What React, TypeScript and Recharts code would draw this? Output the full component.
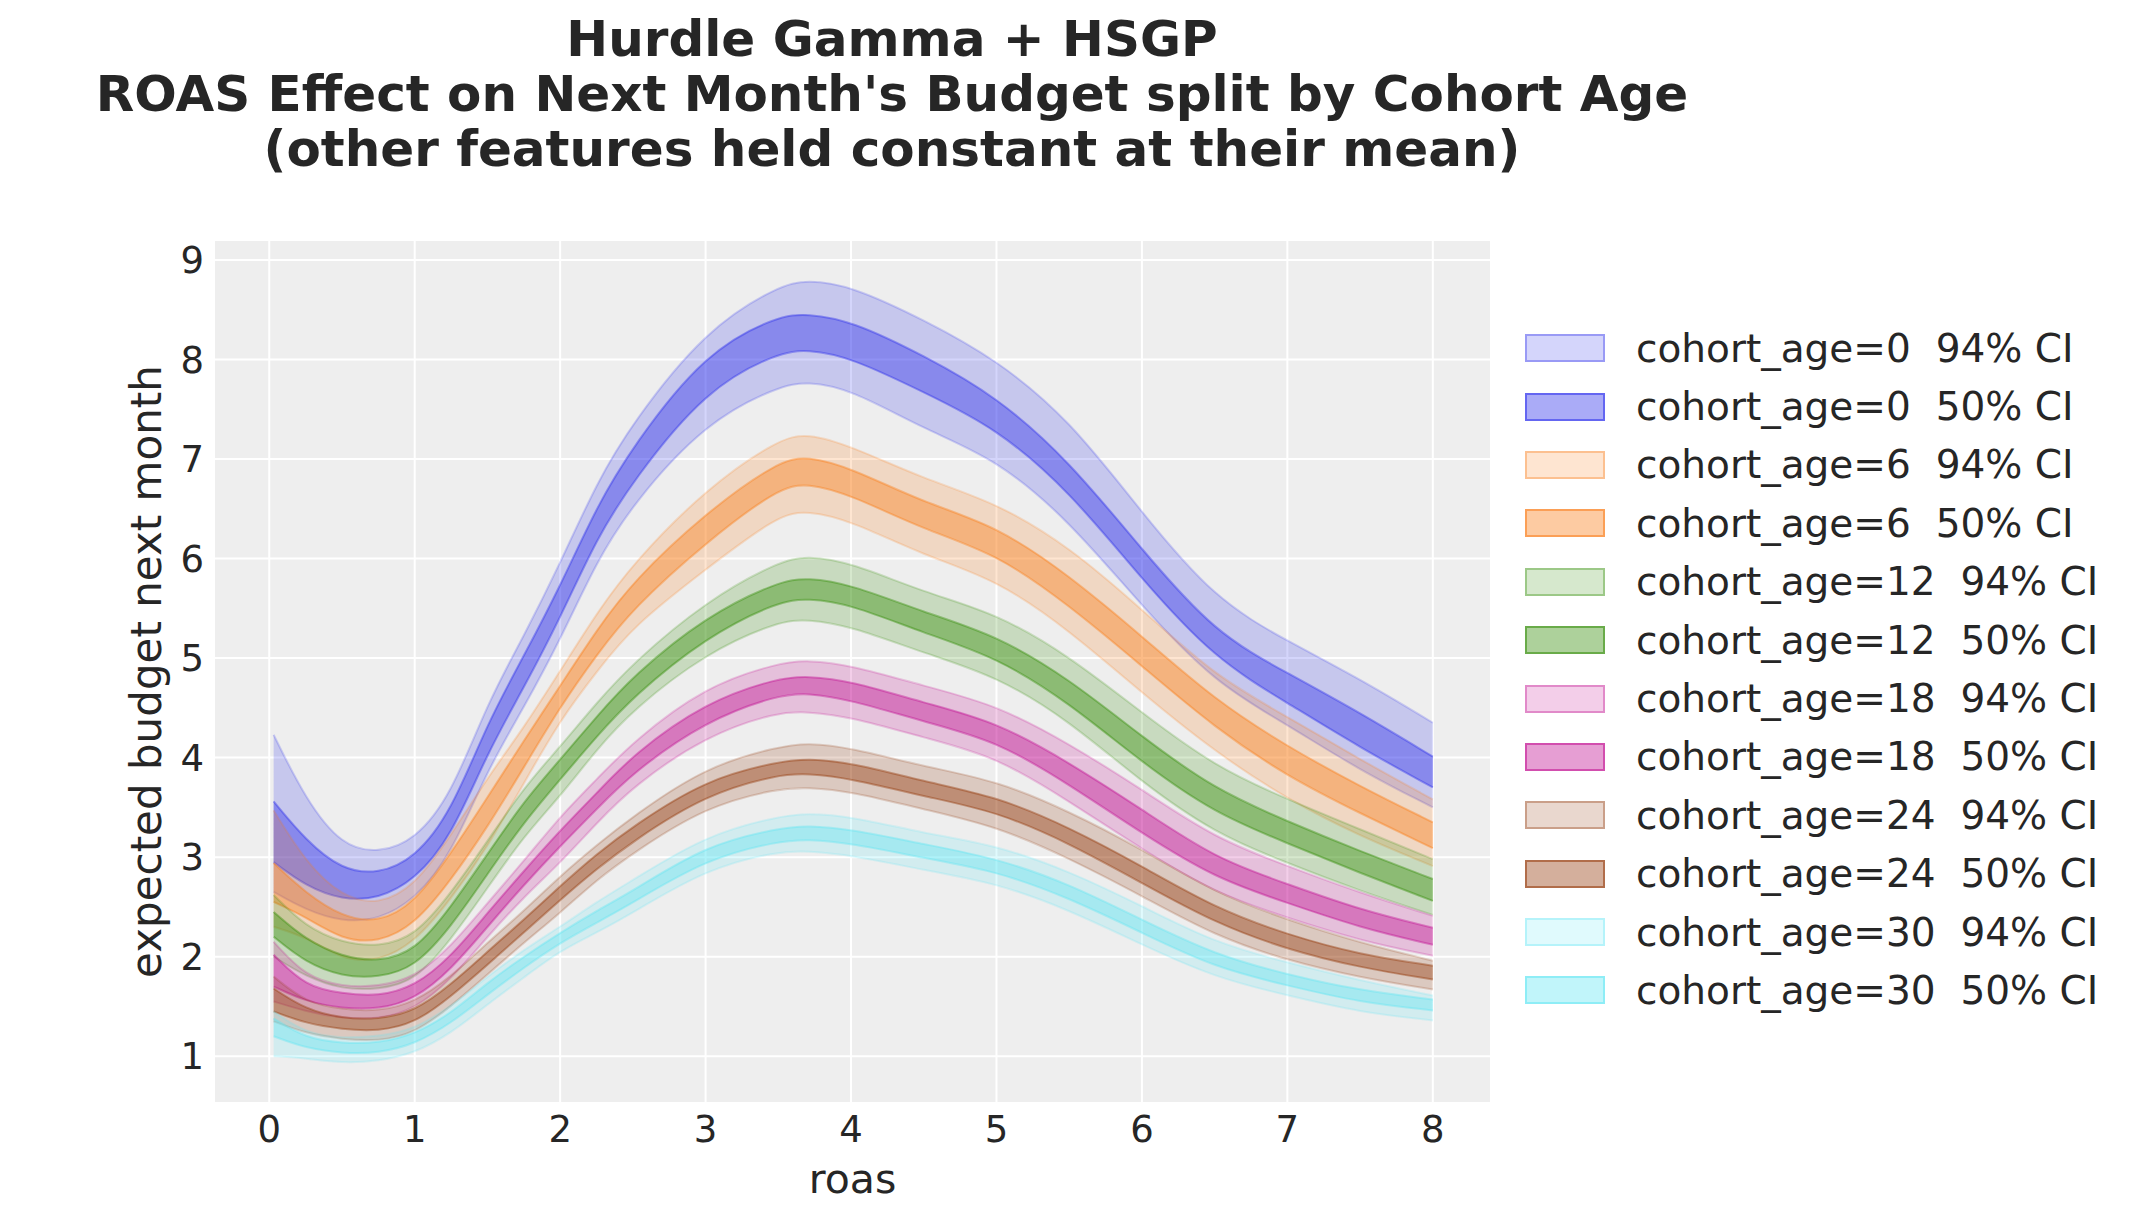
import React from "react";
import { ComposedChart, Area, XAxis, YAxis, CartesianGrid, Legend } from "recharts";

// roas grid the bands were sampled on
const roas = [0.03, 0.25, 0.5, 0.75, 1.0, 1.25, 1.5, 1.75, 2.0, 2.25, 2.5, 3.0, 3.5, 3.7, 4.0, 4.5, 5.0, 5.5, 6.0, 6.5, 7.0, 7.5, 8.0];

// cohort_age = 0
const age0Hi94 = [4.23, 3.58, 3.11, 3.04, 3.17, 3.62, 4.55, 5.22, 5.95, 6.76, 7.37, 8.3, 8.74, 8.8, 8.74, 8.4, 8.0, 7.4, 6.46, 5.59, 5.17, 4.79, 4.35];
const age0Hi50 = [3.56, 3.17, 2.87, 2.83, 2.99, 3.45, 4.35, 5.02, 5.72, 6.52, 7.13, 8.08, 8.44, 8.46, 8.39, 8.04, 7.63, 6.98, 6.09, 5.25, 4.85, 4.45, 4.01];
const age0Lo50 = [2.95, 2.71, 2.57, 2.58, 2.77, 3.2, 4.05, 4.7, 5.4, 6.2, 6.78, 7.7, 8.07, 8.1, 8.02, 7.67, 7.31, 6.68, 5.79, 4.99, 4.55, 4.1, 3.7];
const age0Lo94 = [2.65, 2.47, 2.35, 2.37, 2.57, 3.02, 3.88, 4.5, 5.18, 5.97, 6.55, 7.37, 7.73, 7.78, 7.7, 7.3, 7.0, 6.38, 5.52, 4.75, 4.33, 3.87, 3.5];

// cohort_age = 6
const age6Hi94 = [3.47, 2.95, 2.6, 2.52, 2.71, 3.22, 3.8, 4.3, 4.87, 5.45, 5.95, 6.7, 7.2, 7.26, 7.13, 6.8, 6.56, 6.12, 5.49, 4.82, 4.41, 3.98, 3.58];
const age6Hi50 = [2.94, 2.64, 2.4, 2.34, 2.54, 3.04, 3.6, 4.17, 4.72, 5.28, 5.77, 6.46, 6.98, 7.03, 6.91, 6.56, 6.33, 5.83, 5.22, 4.58, 4.11, 3.71, 3.35];
const age6Lo50 = [2.55, 2.4, 2.17, 2.14, 2.32, 2.77, 3.3, 3.9, 4.51, 5.03, 5.5, 6.16, 6.71, 6.76, 6.64, 6.29, 6.05, 5.53, 4.92, 4.3, 3.81, 3.44, 3.09];
const age6Lo94 = [2.3, 2.2, 1.97, 1.95, 2.14, 2.58, 3.1, 3.74, 4.38, 4.86, 5.32, 5.89, 6.44, 6.48, 6.38, 6.03, 5.79, 5.28, 4.65, 4.06, 3.58, 3.21, 2.91];

// cohort_age = 12
const age12Hi94 = [2.62, 2.3, 2.14, 2.1, 2.2, 2.64, 3.16, 3.7, 4.11, 4.55, 4.95, 5.57, 5.97, 6.03, 5.96, 5.66, 5.45, 5.02, 4.45, 3.91, 3.58, 3.28, 2.98];
const age12Hi50 = [2.45, 2.17, 2.0, 1.95, 2.05, 2.5, 3.03, 3.56, 3.98, 4.41, 4.82, 5.42, 5.77, 5.81, 5.74, 5.46, 5.23, 4.79, 4.21, 3.68, 3.36, 3.06, 2.78];
const age12Lo50 = [2.2, 1.94, 1.8, 1.79, 1.89, 2.3, 2.83, 3.35, 3.78, 4.21, 4.61, 5.21, 5.57, 5.6, 5.54, 5.25, 5.01, 4.55, 3.95, 3.44, 3.14, 2.84, 2.56];
const age12Lo94 = [2.0, 1.8, 1.67, 1.67, 1.75, 2.17, 2.69, 3.21, 3.61, 4.08, 4.48, 5.05, 5.37, 5.39, 5.32, 5.05, 4.82, 4.37, 3.75, 3.24, 2.94, 2.66, 2.42];

// cohort_age = 18
const age18Hi94 = [2.15, 1.8, 1.7, 1.7, 1.79, 2.1, 2.54, 2.96, 3.41, 3.78, 4.16, 4.72, 4.95, 4.98, 4.93, 4.72, 4.53, 4.14, 3.68, 3.19, 2.91, 2.64, 2.41];
const age18Hi50 = [2.02, 1.7, 1.63, 1.6, 1.7, 2.0, 2.44, 2.86, 3.27, 3.64, 4.03, 4.56, 4.8, 4.82, 4.77, 4.55, 4.36, 3.95, 3.48, 2.99, 2.73, 2.47, 2.29];
const age18Lo50 = [1.7, 1.55, 1.48, 1.47, 1.57, 1.87, 2.3, 2.72, 3.11, 3.48, 3.85, 4.37, 4.63, 4.65, 4.58, 4.36, 4.17, 3.73, 3.24, 2.79, 2.54, 2.29, 2.12];
const age18Lo94 = [1.55, 1.45, 1.38, 1.37, 1.47, 1.77, 2.2, 2.6, 2.94, 3.34, 3.71, 4.22, 4.46, 4.46, 4.41, 4.2, 4.01, 3.56, 3.08, 2.64, 2.39, 2.16, 2.01];

// cohort_age = 24
const age24Hi94 = [1.8, 1.54, 1.47, 1.45, 1.54, 1.8, 2.14, 2.46, 2.81, 3.12, 3.41, 3.91, 4.11, 4.15, 4.1, 3.91, 3.77, 3.46, 3.08, 2.64, 2.37, 2.14, 1.96];
const age24Hi50 = [1.68, 1.47, 1.38, 1.37, 1.45, 1.72, 2.05, 2.37, 2.71, 3.03, 3.31, 3.78, 3.96, 3.99, 3.95, 3.76, 3.61, 3.3, 2.91, 2.49, 2.22, 2.02, 1.91];
const age24Lo50 = [1.45, 1.33, 1.27, 1.25, 1.33, 1.6, 1.92, 2.24, 2.57, 2.88, 3.16, 3.63, 3.83, 3.84, 3.79, 3.61, 3.46, 3.14, 2.74, 2.34, 2.07, 1.89, 1.77];
const age24Lo94 = [1.35, 1.23, 1.17, 1.15, 1.23, 1.5, 1.82, 2.14, 2.44, 2.77, 3.04, 3.51, 3.69, 3.7, 3.66, 3.48, 3.31, 2.99, 2.61, 2.21, 1.96, 1.79, 1.67];

// cohort_age = 30
const age30Hi94 = [1.45, 1.23, 1.18, 1.2, 1.27, 1.5, 1.8, 2.07, 2.3, 2.55, 2.77, 3.22, 3.41, 3.44, 3.41, 3.24, 3.12, 2.86, 2.51, 2.14, 1.94, 1.76, 1.61];
const age30Hi50 = [1.38, 1.18, 1.13, 1.13, 1.22, 1.43, 1.74, 2.0, 2.24, 2.46, 2.66, 3.12, 3.29, 3.32, 3.28, 3.13, 2.99, 2.73, 2.37, 2.02, 1.82, 1.66, 1.57];
const age30Lo50 = [1.2, 1.08, 1.03, 1.03, 1.12, 1.33, 1.62, 1.89, 2.14, 2.34, 2.54, 2.98, 3.16, 3.18, 3.14, 2.99, 2.86, 2.59, 2.24, 1.89, 1.71, 1.54, 1.46];
const age30Lo94 = [1.0, 0.98, 0.93, 0.95, 1.03, 1.23, 1.52, 1.79, 2.06, 2.24, 2.44, 2.88, 3.06, 3.06, 3.02, 2.87, 2.74, 2.47, 2.12, 1.79, 1.61, 1.44, 1.36];

const xTicks = [0, 1, 2, 3, 4, 5, 6, 7, 8];
const yTicks = [1, 2, 3, 4, 5, 6, 7, 8, 9];

const FONT = "'DejaVu Sans', sans-serif";
const TEXT = "#262626";

const cohorts = [
  { age: 0, color: "#2a2eec", lo94: age0Lo94, lo50: age0Lo50, hi50: age0Hi50, hi94: age0Hi94 },
  { age: 6, color: "#fa7c17", lo94: age6Lo94, lo50: age6Lo50, hi50: age6Hi50, hi94: age6Hi94 },
  { age: 12, color: "#328c06", lo94: age12Lo94, lo50: age12Lo50, hi50: age12Hi50, hi94: age12Hi94 },
  { age: 18, color: "#c10c90", lo94: age18Lo94, lo50: age18Lo50, hi50: age18Hi50, hi94: age18Hi94 },
  { age: 24, color: "#933708", lo94: age24Lo94, lo50: age24Lo50, hi50: age24Hi50, hi94: age24Hi94 },
  { age: 30, color: "#65e5f3", lo94: age30Lo94, lo50: age30Lo50, hi50: age30Hi50, hi94: age30Hi94 },
];

// each cohort gets the wide band first, then the narrow one on top
const series = cohorts.flatMap((c) => [
  { key: `a${c.age}_94`, color: c.color, alpha: 0.2, label: `cohort_age=${c.age}  94% CI` },
  { key: `a${c.age}_50`, color: c.color, alpha: 0.4, label: `cohort_age=${c.age}  50% CI` },
]);

const data = roas.map((x, i) => {
  const row: Record<string, any> = { x };
  cohorts.forEach((c) => {
    row[`a${c.age}_94`] = [c.lo94[i], c.hi94[i]];
    row[`a${c.age}_50`] = [c.lo50[i], c.hi50[i]];
  });
  return row;
});

const rgba = (hex: string, a: number) => {
  const n = parseInt(hex.slice(1), 16);
  return `rgba(${(n >> 16) & 255}, ${(n >> 8) & 255}, ${n & 255}, ${a})`;
};

const renderLegend = () => (
  <div style={{ fontFamily: FONT, fontSize: 39, color: TEXT }}>
    {series.map((s) => (
      <div key={s.key} style={{ display: "flex", alignItems: "center", height: 58.4 }}>
        <span
          style={{
            display: "inline-block",
            boxSizing: "border-box",
            width: 80,
            height: 28,
            marginRight: 31,
            background: rgba(s.color, s.alpha),
            border: `2px solid ${rgba(s.color, s.alpha + 0.15)}`,
          }}
        />
        <span style={{ whiteSpace: "pre", lineHeight: 1 }}>{s.label}</span>
      </div>
    ))}
  </div>
);

const App = () => {
  return (
    <div
      style={{
        position: "absolute",
        left: 0,
        top: 0,
        width: 2131,
        height: 1223,
        background: "#ffffff",
        fontFamily: FONT,
      }}
    >
      <div
        style={{
          position: "absolute",
          left: 892 - 1000,
          top: 12,
          width: 2000,
          textAlign: "center",
          fontWeight: "bold",
          fontSize: 50,
          lineHeight: "55px",
          color: TEXT,
        }}
      >
        <div>Hurdle Gamma + HSGP</div>
        <div>ROAS Effect on Next Month's Budget split by Cohort Age</div>
        <div>(other features held constant at their mean)</div>
      </div>
      <ComposedChart
        width={2131}
        height={1223}
        data={data}
        margin={{ top: 240, right: 640, bottom: 60, left: 114 }}
        style={{ position: "absolute", left: 0, top: 0 }}
      >
        <CartesianGrid fill="#eeeeee" stroke="#ffffff" strokeWidth={2} />
        <XAxis
          dataKey="x"
          type="number"
          domain={[-0.38, 8.4]}
          ticks={xTicks}
          height={60}
          axisLine={false}
          tickLine={false}
          tickSize={6}
          tickMargin={7}
          tick={{ fontSize: 37, fill: TEXT, fontFamily: FONT }}
          label={{ value: "roas", position: "bottom", offset: 1, fontSize: 41, fill: TEXT, fontFamily: FONT }}
        />
        <YAxis
          type="number"
          domain={[0.53, 9.2]}
          ticks={yTicks}
          width={100}
          axisLine={false}
          tickLine={false}
          tickSize={6}
          tickMargin={4}
          tick={{ fontSize: 37, fill: TEXT, fontFamily: FONT }}
          label={{
            value: "expected budget next month",
            angle: -90,
            position: "insideLeft",
            offset: 32,
            fontSize: 42,
            fill: TEXT,
            fontFamily: FONT,
            style: { textAnchor: "middle" },
          }}
        />
        <Legend
          layout="vertical"
          align="center"
          verticalAlign="middle"
          content={renderLegend}
          wrapperStyle={{ left: 1525, top: 319, width: 600 }}
        />
        {series.map((s) => (
          <Area
            key={s.key}
            dataKey={s.key}
            type="basis"
            fill={s.color}
            fillOpacity={s.alpha}
            stroke={s.color}
            strokeOpacity={s.alpha}
            strokeWidth={2}
            dot={false}
            activeDot={false}
            isAnimationActive={false}
          />
        ))}
      </ComposedChart>
    </div>
  );
};

export default App;
